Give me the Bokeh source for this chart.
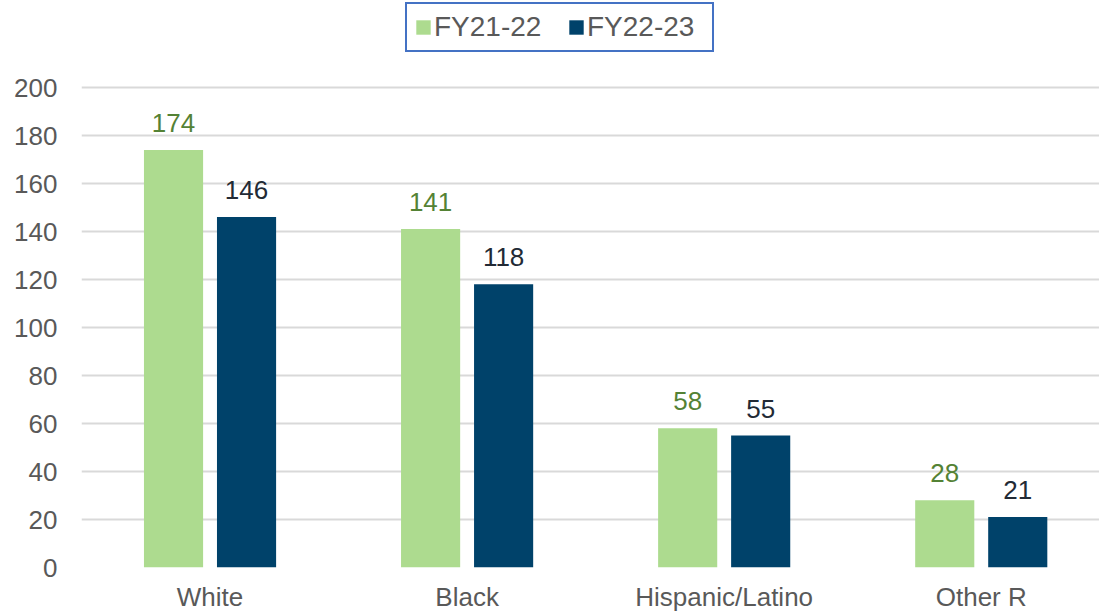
import numpy as np
from bokeh.plotting import figure
from bokeh.models import (ColumnDataSource, Range1d, Legend, LegendItem, LabelSet,
                          FixedTicker)
from bokeh.core.properties import value
from bokeh.embed import file_html
from bokeh.resources import INLINE

categories = ["White", "Black", "Hispanic/Latino", "Other R"]
fy21_22 = [174, 141, 58, 28]
fy22_23 = [146, 118, 55, 21]
series_names = ["FY21-22", "FY22-23"]
y_ticks = [0, 20, 40, 60, 80, 100, 120, 140, 160, 180, 200]

GREEN = "#ADDB8F"
NAVY = "#00426A"
FONT = "Liberation Sans"

centers = np.arange(len(categories)) + 0.5
offset = 0.142
bar_w = 0.23

src = ColumnDataSource(dict(
    xa=centers - offset, xb=centers + offset,
    a=fy21_22, b=fy22_23,
    at=[str(v) for v in fy21_22], bt=[str(v) for v in fy22_23],
))

p = figure(x_range=Range1d(0, 3.96), y_range=Range1d(0, 236.25),
           width=1099, height=614, output_backend="svg", toolbar_location=None,
           min_border_left=81, min_border_right=0, min_border_top=0,
           min_border_bottom=47, outline_line_color=None)

r1 = p.vbar(x="xa", top="a", width=bar_w, source=src, fill_color=GREEN, line_color=None)
r2 = p.vbar(x="xb", top="b", width=bar_w, source=src, fill_color=NAVY, line_color=None)

p.add_layout(LabelSet(x="xa", y="a", text="at", source=src, text_align="center",
                      text_baseline="alphabetic", y_offset=18, text_font=value(FONT),
                      text_font_size=value("26px"), text_color="#548235"))
p.add_layout(LabelSet(x="xb", y="b", text="bt", source=src, text_align="center",
                      text_baseline="alphabetic", y_offset=18, text_font=value(FONT),
                      text_font_size=value("26px"), text_color="#222A35"))

p.xaxis.ticker = FixedTicker(ticks=list(centers))
p.xaxis.major_label_overrides = {float(c): n for c, n in zip(centers, categories)}
p.yaxis.ticker = FixedTicker(ticks=y_ticks)

for ax in (p.xaxis, p.yaxis):
    ax.axis_line_color = None
    ax.major_tick_line_color = None
    ax.minor_tick_line_color = None
    ax.major_tick_out = 0
    ax.major_tick_in = 0
    ax.minor_tick_out = 0
    ax.minor_tick_in = 0
    ax.major_label_text_font = FONT
    ax.major_label_text_font_size = "26px"
    ax.major_label_text_color = "#595959"
p.yaxis.major_label_standoff = 24
p.xaxis.major_label_standoff = 14

p.xgrid.grid_line_color = None
p.ygrid.ticker = FixedTicker(ticks=y_ticks)
p.ygrid.grid_line_color = "#D9D9D9"
p.ygrid.grid_line_width = 2

legend = Legend(items=[LegendItem(label=series_names[0], renderers=[r1]),
                       LegendItem(label=series_names[1], renderers=[r2])],
                orientation="horizontal", location=(324, 515),
                label_text_font=FONT, label_text_font_size="28px",
                label_text_color="#595959", glyph_width=18, glyph_height=18,
                label_standoff=2, label_width=118, spacing=15, padding=7, margin=0,
                border_line_color="#4472C4", border_line_width=2,
                border_line_alpha=1.0, background_fill_alpha=1)
p.add_layout(legend, "center")

open("out.html", "w").write(file_html(p, INLINE))
